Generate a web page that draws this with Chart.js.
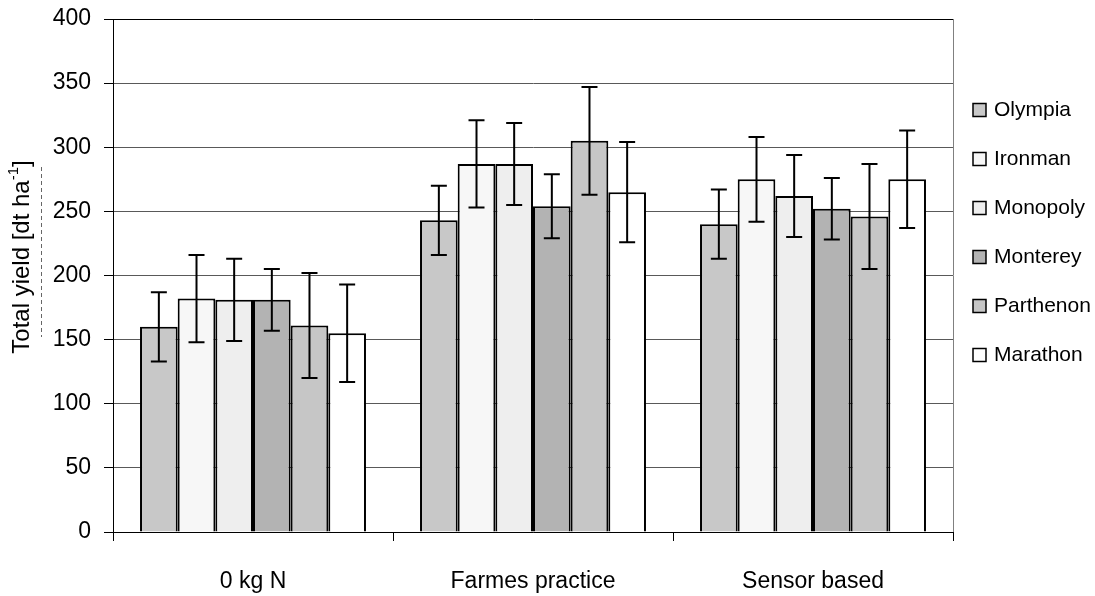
<!DOCTYPE html>
<html>
<head>
<meta charset="utf-8">
<title>Total yield</title>
<script src="https://cdn.jsdelivr.net/npm/chart.js@4.4.1/dist/chart.umd.min.js"></script>
<style>
    body { margin: 0; background: #fff; }
    #wrap { width: 1095px; height: 596px; position: relative; }
</style>
</head>
<body>
<div id="wrap"><canvas id="chart-yield"></canvas></div>
<script>
// data
const categories = ["0 kg N", "Farmes practice", "Sensor based"];
const varieties = ["Olympia", "Ironman", "Monopoly", "Monterey", "Parthenon", "Marathon"];

const olympia = [160, 243, 240];
const ironman = [182, 287, 275];
const monopoly = [181, 287, 262];
const monterey = [181, 254, 252];
const parthenon = [161, 305, 246];
const marathon = [155, 265, 275];

const olympiaErr = [27, 27, 27];
const ironmanErr = [34, 34, 33];
const monopolyErr = [32, 32, 32];
const montereyErr = [24, 25, 24];
const parthenonErr = [41, 42, 41];
const marathonErr = [38, 39, 38];

const yTicks = [0, 50, 100, 150, 200, 250, 300, 350, 400];

const fills = ["#c8c8c8", "#f7f7f7", "#eeeeee", "#b3b3b3", "#c6c6c6", "#ffffff"];
const values = [olympia, ironman, monopoly, monterey, parthenon, marathon];
const errors = [olympiaErr, ironmanErr, monopolyErr, montereyErr, parthenonErr, marathonErr];

Chart.defaults.font.family = "'Liberation Sans', Arial, sans-serif";
Chart.defaults.color = "#000";

// error bars drawn through the y scale
const errorBars = {
    id: "errorBars",
    afterDatasetsDraw(chart) {
        const ctx = chart.ctx;
        const y = chart.scales.y;
        ctx.save();
        ctx.strokeStyle = "#000";
        ctx.lineWidth = 2;
        chart.data.datasets.forEach(function (ds, i) {
            const meta = chart.getDatasetMeta(i);
            meta.data.forEach(function (bar, j) {
                const v = ds.data[j];
                const e = ds.errors[j];
                const top = y.getPixelForValue(v + e);
                const bot = y.getPixelForValue(v - e);
                ctx.beginPath();
                ctx.moveTo(bar.x, top);
                ctx.lineTo(bar.x, bot);
                ctx.moveTo(bar.x - 8, top);
                ctx.lineTo(bar.x + 8, top);
                ctx.moveTo(bar.x - 8, bot);
                ctx.lineTo(bar.x + 8, bot);
                ctx.stroke();
            });
        });
        ctx.restore();
    }
};

// frame, y title and legend like the spreadsheet original
const extras = {
    id: "extras",
    afterDraw(chart) {
        const ctx = chart.ctx;
        const a = chart.chartArea;
        ctx.save();

        // right border of plot
        ctx.strokeStyle = "#808080";
        ctx.lineWidth = 1;
        ctx.beginPath();
        ctx.moveTo(Math.round(a.right) + 0.5, a.top);
        ctx.lineTo(Math.round(a.right) + 0.5, a.bottom);
        ctx.stroke();

        // stray dashed line left of the axis title
        ctx.strokeStyle = "#666";
        ctx.setLineDash([4, 3]);
        ctx.beginPath();
        ctx.moveTo(41.5, 167);
        ctx.lineTo(41.5, 337);
        ctx.stroke();
        ctx.setLineDash([]);

        // y axis title with superscript
        const main = "Total yield [dt ha";
        const sup = "-1";
        const end = "]";
        ctx.translate(22, 257);
        ctx.rotate(-Math.PI / 2);
        ctx.fillStyle = "#000";
        ctx.textBaseline = "middle";
        ctx.font = "24px 'Liberation Sans', Arial, sans-serif";
        const w1 = ctx.measureText(main).width;
        const w3 = ctx.measureText(end).width;
        ctx.font = "15px 'Liberation Sans', Arial, sans-serif";
        const w2 = ctx.measureText(sup).width;
        let x = -(w1 + w2 + w3) / 2;
        ctx.font = "24px 'Liberation Sans', Arial, sans-serif";
        ctx.fillText(main, x, 0);
        x += w1;
        ctx.font = "15px 'Liberation Sans', Arial, sans-serif";
        ctx.fillText(sup, x, -8);
        x += w2;
        ctx.font = "24px 'Liberation Sans', Arial, sans-serif";
        ctx.fillText(end, x, 0);
        ctx.setTransform(1, 0, 0, 1, 0, 0);

        // legend
        ctx.font = "21px 'Liberation Sans', Arial, sans-serif";
        ctx.textBaseline = "middle";
        ctx.lineWidth = 1.5;
        chart.data.datasets.forEach(function (ds, i) {
            const cy = 110 + i * 49;
            ctx.fillStyle = ds.backgroundColor;
            ctx.fillRect(973, cy - 6.5, 13, 13);
            ctx.strokeStyle = "#000";
            ctx.strokeRect(973, cy - 6.5, 13, 13);
            ctx.fillStyle = "#000";
            ctx.fillText(ds.label, 994, cy);
        });
        ctx.restore();
    }
};

new Chart(document.getElementById("chart-yield"), {
    type: "bar",
    data: {
        labels: categories,
        datasets: varieties.map(function (name, i) {
            return {
                label: name,
                data: values[i],
                errors: errors[i],
                backgroundColor: fills[i],
                borderColor: "#000",
                borderWidth: 2,
                borderSkipped: "bottom",
                categoryPercentage: 0.807,
                barPercentage: 1.0,
            };
        }),
    },
    options: {
        responsive: true,
        maintainAspectRatio: false,
        animation: false,
        layout: { padding: { top: 19, right: 142, left: 0, bottom: 0 } },
        plugins: {
            legend: { display: false },
            tooltip: { enabled: false },
        },
        scales: {
            x: {
                afterFit: function (scale) { scale.height = 64; },
                grid: {
                    offset: true,
                    drawOnChartArea: false,
                    drawTicks: true,
                    tickLength: 9,
                    tickColor: "#000",
                },
                border: { color: "#000", width: 1 },
                ticks: { font: { size: 23 }, padding: 27, color: "#000" },
            },
            y: {
                min: 0,
                max: 400,
                afterFit: function (scale) { scale.width = 113; },
                afterBuildTicks: function (scale) {
                    scale.ticks = yTicks.map(function (v) { return { value: v }; });
                },
                grid: {
                    color: function (c) { return c.tick.value === 400 ? "#000" : "#595959"; },
                    tickLength: 9,
                    tickColor: "#000",
                },
                border: { color: "#000", width: 1 },
                ticks: { font: { size: 23, lineHeight: 0.5 }, padding: 13, color: "#000" },
            },
        },
    },
    plugins: [errorBars, extras],
});
</script>
</body>
</html>
